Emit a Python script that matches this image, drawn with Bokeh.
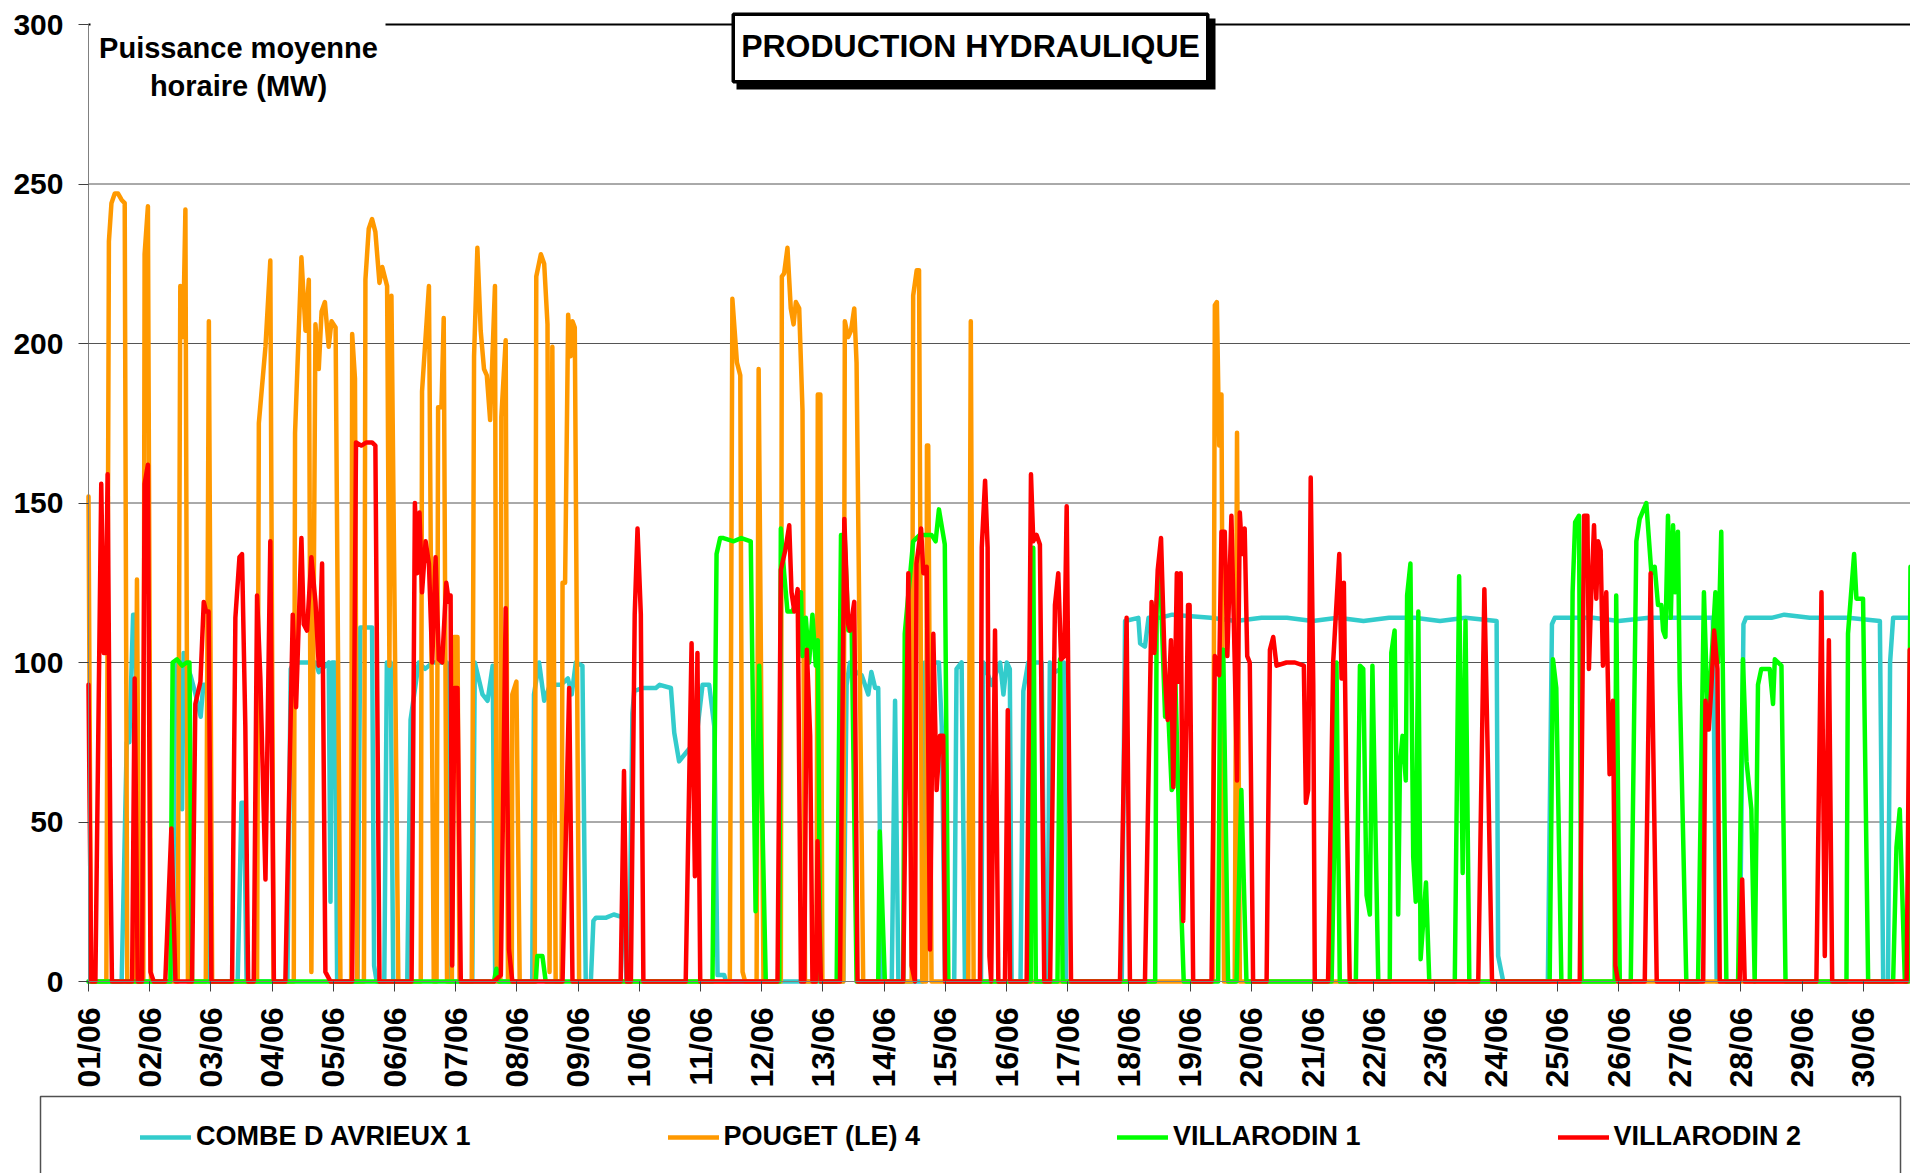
from math import pi
from bokeh.plotting import figure
from bokeh.models import (Range1d, FixedTicker, Label, BoxAnnotation, Legend, LegendItem)
from bokeh.embed import file_html
from bokeh.resources import INLINE

# ---------------- data (hours since 01/06 00:00, MW) ----------------
DAY_LABELS = ["01/06", "02/06", "03/06", "04/06", "05/06", "06/06", "07/06", "08/06",
              "09/06", "10/06", "11/06", "12/06", "13/06", "14/06", "15/06", "16/06",
              "17/06", "18/06", "19/06", "20/06", "21/06", "22/06", "23/06", "24/06",
              "25/06", "26/06", "27/06", "28/06", "29/06", "30/06"]
DAY_HOURS = [0, 24, 48, 72, 96, 120, 144, 168, 192, 216, 240, 264, 288, 312, 336, 360,
             384, 408, 432, 456, 480, 504, 528, 552, 576, 600, 624, 648, 672, 696]
Y_TICKS = [0, 50, 100, 150, 200, 250, 300]
GRID_LEVELS = [50, 100, 150, 200, 250]

SERIES_NAMES = ["COMBE D AVRIEUX 1", "POUGET (LE) 4", "VILLARODIN 1", "VILLARODIN 2"]

combe_h = [0, 13, 15, 16, 17.5, 18.5, 19.5,
           33, 34, 36, 36.7, 37.3, 38, 40, 42, 44, 45, 46.5, 47.5,
           58.5, 60, 61, 62,
           78, 79.3, 80.5, 89, 90.3, 94.2, 94.9, 95.5, 96.6, 97.5,
           105.5, 106.6, 111.2, 112, 113,
           116, 117, 118.5, 119.5,
           125, 126.3, 129.5, 132, 135, 140.5, 141.5,
           150.5, 151.5, 154.5, 156.5, 158.5, 159.5,
           174, 174.7, 176.7, 178.7, 181, 185.2, 188, 189.5, 191.1, 193.7, 195,
           197, 198, 199, 203, 206, 210, 211,
           212, 213.3, 214, 217, 222.5, 224, 228.4, 229.7, 231.6, 233.6, 235.6, 237,
           238.2, 240.8, 243.4, 245.4, 246.7, 249.3, 250,
           296, 297.3, 298.6, 301, 303.2, 304.5, 305.8, 307, 308.5, 309.7, 311,
           315, 316.3, 317.6,
           327, 328, 333.5, 334.6, 335.9,
           339.5, 340.4, 342.4, 343.7,
           350, 350.9, 354.2, 357.5, 358.8, 360.1, 361.3, 362,
           365.5, 366.6, 368.5, 373.8, 375.1,
           376.1, 377, 379, 381.3, 382.5, 383.3,
           405.2, 406.5, 411.7, 412.4, 414.3, 415.7, 420, 425, 440, 450, 460, 470, 480,
           490, 500, 510, 520, 530, 540, 552.2, 552.8, 554.8,
           572.3, 573.9, 575, 590, 600, 612, 625, 637, 638.5,
           647.5, 649, 650, 660, 665, 675, 690, 702.5, 703.8,
           705.7, 706.5, 707.7, 714.5]
combe_mw = [0, 0, 75, 75, 115, 115, 0,
            0, 100, 100, 54, 103, 100, 96, 90, 83, 93, 93, 0,
            0, 56, 56, 0,
            0, 98, 100, 100, 97, 100, 25, 100, 100, 0,
            0, 111, 111, 5, 0,
            0, 100, 100, 0,
            0, 82, 100, 98, 100, 100, 0,
            0, 100, 90, 88, 99, 0,
            0, 90, 100, 88, 93, 93, 95, 90, 100, 99, 0,
            0, 19, 20, 20, 21, 20, 0,
            0, 84, 91, 92, 92, 93, 92, 78, 69, 71, 73, 73,
            75, 93, 93, 80, 2, 2, 0,
            0, 93, 100, 97, 96, 93, 90, 97, 92, 92, 0,
            0, 88, 0,
            0, 100, 100, 80, 0,
            0, 98, 100, 0,
            0, 100, 93, 100, 90, 100, 98, 0,
            0, 91, 100, 100, 0,
            0, 100, 97, 98, 100, 0,
            0, 113, 114, 106, 105, 114, 114, 115, 114, 113, 114, 114, 113,
            114, 113, 114, 114, 113, 114, 113, 8, 0,
            0, 112, 114, 114, 113, 114, 114, 114, 0,
            0, 112, 114, 114, 115, 114, 114, 113, 0,
            0, 100, 114, 114]

pouget_h = [0, 1,
            7, 8, 9, 10.3, 11.6, 13, 14.2, 15.2,
            18.3, 19, 20,
            21.5, 22, 23.3, 24.5,
            35, 36, 37.1, 38, 39,
            46, 47.2, 48.5,
            66.1, 66.8, 69.4, 71.3, 72.6,
            80.5, 81, 83.5, 85.1, 86.4, 87.4, 89, 90.3, 91.4, 92.7, 94.2, 95.3, 96.9, 98.8,
            103, 103.4, 104.5, 105.4,
            108, 108.6, 109.9, 111.2, 112.5, 114.1, 115.2, 117.1, 118, 118.8, 121.5,
            130.3, 130.8, 133.5, 135.4, 136.5, 137.1, 138.4, 139.3, 140.6,
            142.5, 143.3, 144.7, 145.5,
            150.3, 151.2, 152.5, 153.8, 155.1, 156.2, 157.5, 159.4, 160.1,
            161.5, 161.9, 163.6, 164.5, 166, 166.2, 167.8, 169.1,
            175, 175.6, 177.4, 178.7, 180, 180.8, 181.9, 183.2,
            185.5, 185.9, 186.9, 188.1, 189.1, 189.8, 190.7, 192.4,
            251.5, 252.5, 254.3, 255.6, 256.5, 257.5, 262, 262.8, 264.7,
            271.5, 271.9, 272.8, 274.1, 275.4, 276.5, 277.4, 278.7, 280, 281,
            285.5, 286, 287, 287.8,
            296, 296.6, 297.9, 299, 300.3, 301.2, 303.8,
            322.8, 323.4, 324.8, 325.7, 327, 328.5, 328.8, 329.3, 330.6,
            345, 346, 347.1,
            441, 441.7, 442.5, 443.4, 444.3, 445.3, 449.5, 450.4, 451.5,
            714.5]
pouget_mw = [152, 0,
             0, 232, 244, 247, 247, 245, 244, 0,
             0, 126, 0,
             0, 228, 243, 0,
             0, 218, 202, 242, 0,
             0, 207, 0,
             0, 175, 199, 226, 0,
             0, 172, 227, 204, 220, 3, 206, 192, 210, 213, 199, 207, 205, 0,
             0, 203, 189, 0,
             0, 220, 236, 239, 235, 219, 224, 218, 99, 215, 0,
             0, 185, 218, 0, 0, 180, 180, 208, 0,
             0, 108, 108, 0,
             0, 196, 230, 204, 192, 190, 176, 218, 0,
             0, 177, 201, 0, 0, 90, 94, 0,
             0, 221, 228, 225, 206, 3, 199, 0,
             0, 125, 125, 209, 196, 207, 205, 0,
             0, 214, 194, 190, 3, 0, 0, 192, 0,
             0, 221, 222, 230, 211, 206, 213, 211, 179, 0,
             0, 184, 184, 0,
             0, 207, 202, 204, 211, 194, 0,
             0, 215, 223, 223, 0, 0, 168, 168, 0,
             0, 207, 0,
             0, 212, 213, 168, 184, 0, 0, 172, 0,
             0]

villa1_h = [0, 32.1, 32.5, 33, 34.7, 36.7, 38.5, 39.6, 40.6,
            159, 160, 161,
            175.4, 176, 178, 179.3,
            244.7, 246.3, 247.7, 249, 253, 256, 259.7, 261.6, 263, 265.6,
            270.9, 271.5, 272.8, 274.1, 276, 279.4, 280, 281.3, 282.6, 283.9, 285.2, 286, 287,
            293.4, 295.1, 296.5, 298, 299.3, 301.2,
            309.7, 310.3, 312.3,
            319.5, 320.1, 323.4, 326, 330.6, 332.2, 333.5, 335.8, 337.2,
            369.5, 370.5, 371.5,
            380, 381, 382,
            418.3, 418.9, 420.2, 422.2, 423.5, 424.8, 425.4, 426.1, 428.7, 429.5,
            443, 443.8, 445, 446.9, 450.2, 452.1, 454.1,
            487.5, 488.5, 489.4, 490.7, 497, 498.6, 499.9, 501.2, 502.5, 503.5, 505.8,
            510.3, 510.9, 512.2, 513.6, 514.3, 515.3, 516.6, 517.1, 518.4, 519.5, 520.5,
            521.5, 522.4, 524.5, 525.8,
            535.8, 537.5, 538.9, 540, 541.5,
            573, 574.3, 575.6, 577.6,
            580.9, 582, 583, 584.5, 585.5,
            598.5, 599.1, 600.5,
            604.8, 607, 608.3, 610.9, 612.9, 614.2, 615.5, 616.8, 617.5, 618.4, 619.4,
            620.5, 621.4, 622.3, 623.3, 624, 626.6,
            631.2, 633.5, 635.1, 636.4, 638, 639, 640.3, 642.3,
            646.9, 648.8, 650.2, 652.1, 653.4, 654.7, 656, 659.3, 660.6, 661.3, 663.9, 665.5,
            689.4, 690, 692.4, 693.3, 695.9, 697.9,
            707.7, 709, 710.3, 712.3, 713.5, 714.5]
villa1_mw = [0, 0, 48, 100, 101, 99, 100, 100, 0,
             0, 4, 0,
             0, 8, 8, 0,
             0, 134, 139, 139, 138, 139, 138, 22, 99, 0,
             0, 142, 128, 116, 116, 122, 102, 114, 100, 115, 99, 107, 0,
             0, 140, 140, 110, 110, 0,
             0, 47, 0,
             0, 109, 138, 140, 140, 138, 148, 137, 0,
             0, 136, 0,
             0, 101, 0,
             0, 119, 129, 83, 83, 60, 61, 98, 19, 0,
             0, 104, 104, 0, 0, 60, 0,
             0, 42, 100, 0, 0, 99, 98, 27, 21, 99, 0,
             0, 103, 110, 21, 68, 77, 63, 121, 131, 39, 25,
             116, 7, 31, 0,
             0, 127, 34, 113, 0,
             0, 101, 92, 0,
             0, 122, 144, 146, 0,
             0, 121, 0,
             0, 138, 145, 150, 128, 130, 118, 118, 110, 108, 146,
             114, 143, 122, 141, 94, 0,
             0, 122, 80, 100, 122, 100, 141, 0,
             0, 101, 69, 54, 0, 93, 98, 98, 87, 101, 99, 0,
             0, 109, 134, 120, 120, 0,
             0, 42, 54, 0, 0, 130]

villa2_h = [0, 1.1,
            2.7, 5, 6, 6.6, 7.5, 8.6, 9.2,
            17.1, 18.1, 19.3, 21, 22, 23.3, 24.3, 25.6,
            30.1, 32.5, 34.1,
            40.6, 41.9, 43.9, 45.2, 46.1, 47.1, 48.2,
            56.3, 57.6, 59.2, 60.2, 61.5, 62.6,
            64.8, 66.1, 67.4, 69.4, 71.3, 72.7,
            77.2, 80.1, 81.4, 83.5, 84.4, 85.7, 87.4, 89, 90.3, 91.6, 92.9, 94.9,
            103.4, 104.9, 107, 109, 111.2, 112.5, 114.1,
            126.7, 128, 128.9, 129.8, 130.8, 132.2, 133.5, 134.8, 136.1, 137.4, 138.7,
            140.3, 141.3, 142, 142.6, 143.5, 144.7, 146,
            159, 161.7, 163.6, 164.9, 166.2,
            185.9, 188.5, 189.8,
            208.7, 210, 211.1, 212.7, 214.2, 215.3, 216.6, 217.6,
            234.2, 236.5, 237.8, 238.8, 239.9,
            270.2, 271.5, 273.2, 274.8, 275.7, 276.8, 278.1, 279.4, 280.7, 281.7, 283,
            283.9, 285.3, 285.9, 287.2,
            294.7, 296.4, 297.9, 298.6, 300.3, 301.6,
            319.5, 321.5, 322.8, 324.1, 324.7, 326.5, 327.4, 328.7, 330, 331.3, 332.6,
            333.9, 335.2, 335.9,
            349.6, 350.3, 351.6, 352.6, 353.3, 354, 355.5, 356.8,
            359.4, 360.5, 361.4,
            367.9, 369.6, 370.5, 371.8, 373.1, 374.8,
            377.1, 379, 380.3, 381.4, 382.7, 383.6, 385.3,
            404.5, 407.1, 408.4,
            414.3, 416.9, 418, 419.3, 420.6, 422.2, 423.2, 424.5, 425.4, 426.8, 427.5,
            428.3, 429.3, 431.2, 431.8, 433.2,
            440.4, 441.7, 443.4, 444.3, 445.6, 446.6, 448.2, 449.5, 450.4, 451.5, 452.4,
            453.4, 454.4, 455.4, 456.7,
            462, 463.3, 464.6, 465.9, 469.8, 473.1, 476.6, 477.4, 478.3, 479.3, 480.3, 480.9,
            486.1, 488.1, 490.5, 491.4, 492.3, 493.3, 494.6,
            545, 547.4, 549, 550.4,
            584.8, 586.5, 587.8, 588.4, 589.3, 590.4, 591.3, 592, 593, 593.9, 595.2,
            596.5, 597.8, 598.8, 599.8,
            610.3, 612.6, 615,
            633.2, 634.1, 635.4, 636.4, 637.5, 638.8, 639.7,
            647.5, 648.5, 649.5,
            677.6, 679.6, 680.9, 682.5, 683.8,
            713, 714.2, 714.5]
villa2_mw = [93, 0,
             0, 156, 103, 103, 159, 40, 0,
             0, 95, 0, 0, 156, 162, 3, 0,
             0, 48, 0,
             0, 87, 94, 119, 116, 116, 0,
             0, 114, 133, 134, 80, 0,
             0, 121, 95, 32, 138, 0,
             0, 115, 86, 139, 112, 110, 133, 119, 99, 131, 3, 0,
             0, 169, 168, 169, 169, 168, 0,
             0, 150, 128, 147, 122, 138, 131, 100, 133, 101, 100,
             125, 119, 121, 5, 92, 92, 0,
             0, 2, 117, 10, 0,
             0, 92, 0,
             0, 66, 0, 0, 115, 142, 115, 0,
             0, 106, 33, 103, 0,
             0, 129, 135, 143, 122, 116, 123, 0, 0, 104, 77,
             0, 0, 44, 0,
             0, 145, 112, 110, 119, 0,
             0, 128, 5, 0, 131, 142, 128, 130, 10, 109, 60,
             77, 77, 0,
             0, 136, 157, 136, 8, 0, 110, 0,
             0, 85, 0,
             0, 159, 138, 140, 137, 0,
             0, 118, 128, 101, 102, 149, 0,
             0, 114, 0,
             0, 119, 103, 129, 139, 95, 82, 107, 61, 128, 94,
             128, 19, 118, 118, 0,
             0, 102, 96, 141, 141, 102, 146, 100, 63, 147, 134,
             142, 102, 100, 0,
             0, 104, 108, 99, 100, 100, 99, 56, 60, 158, 93, 0,
             0, 100, 134, 95, 125, 60, 0,
             0, 123, 60, 0,
             0, 146, 146, 98, 121, 143, 120, 138, 135, 99, 122,
             65, 88, 5, 0,
             0, 128, 0,
             0, 88, 79, 92, 110, 98, 0,
             0, 32, 0,
             0, 122, 8, 107, 0,
             0, 104, 104]

COLORS = ["#33CCCC", "#FF9900", "#00FF00", "#FF0000"]

# ---------------- layout constants (pixels) ----------------
W, H = 1910, 1173
PLOT_LEFT, PLOT_TOP, PLOT_BOTTOM = 88, 24, 981
PX_PER_HOUR = 61.2 / 24
PX_PER_MW = (PLOT_BOTTOM - PLOT_TOP) / 300.0
X_END = (W - PLOT_LEFT) / PX_PER_HOUR


def vy(y_canvas):
    """canvas y (top-down) -> Bokeh screen y (bottom-up)"""
    return H - y_canvas


FONT = "Liberation Sans"
p = figure(width=W, height=H, title=None,
           x_range=Range1d(-PLOT_LEFT / PX_PER_HOUR, X_END),
           y_range=Range1d(-(H - PLOT_BOTTOM) / PX_PER_MW, PLOT_BOTTOM / PX_PER_MW),
           output_backend="svg", toolbar_location=None,
           min_border_left=0, min_border_right=0, min_border_top=0, min_border_bottom=0)
p.outline_line_color = None
p.background_fill_color = "white"
p.border_fill_color = "white"
p.xgrid.visible = False
p.ygrid.visible = False

# axes pinned at the data origin
p.xaxis.fixed_location = 0
p.yaxis.fixed_location = 0
p.xaxis.bounds = (0, X_END)
p.yaxis.bounds = (0, 300)
p.xaxis.ticker = FixedTicker(ticks=DAY_HOURS)
p.xaxis.major_label_overrides = {h: lab for h, lab in zip(DAY_HOURS, DAY_LABELS)}
p.xaxis.major_label_orientation = pi / 2
p.xaxis.major_label_standoff = 16
p.xaxis.major_label_text_font_size = "32px"
p.yaxis.ticker = FixedTicker(ticks=Y_TICKS)
p.yaxis.major_label_standoff = 15
p.yaxis.major_label_text_font_size = "30px"
for ax in (p.xaxis, p.yaxis):
    ax.major_label_text_font = FONT
    ax.major_label_text_font_style = "bold"
    ax.major_label_text_color = "black"
    ax.axis_line_color = "#808080"
    ax.axis_line_width = 1
    ax.major_tick_line_color = "#404040"
    ax.major_tick_out = 10
    ax.major_tick_in = 0
    ax.minor_tick_out = 0
    ax.minor_tick_in = 0

# horizontal grid lines and top border
p.segment(x0=[0] * len(GRID_LEVELS), y0=GRID_LEVELS, x1=[X_END] * len(GRID_LEVELS),
          y1=GRID_LEVELS, line_color="#555555", line_width=1)
p.segment(x0=[0], y0=[300], x1=[X_END], y1=[300], line_color="black", line_width=2)

renderers = []
for name, xs, ys, col in zip(SERIES_NAMES,
                             [combe_h, pouget_h, villa1_h, villa2_h],
                             [combe_mw, pouget_mw, villa1_mw, villa2_mw], COLORS):
    r = p.line(xs, ys, line_color=col, line_width=4.5, line_join="round", line_cap="round")
    renderers.append(r)

SCREEN = dict(left_units="screen", right_units="screen", top_units="screen",
              bottom_units="screen")

# white box behind the unit label
p.add_layout(BoxAnnotation(left=90, right=385, top=vy(18), bottom=vy(104),
                           fill_color="white", fill_alpha=1, line_color=None, **SCREEN))
p.add_layout(Label(x=238, y=vy(47), x_units="screen", y_units="screen",
                   text="Puissance moyenne", text_align="center",
                   text_baseline="alphabetic", text_font=FONT,
                   text_font_style="bold", text_font_size="29px", text_color="black"))
p.add_layout(Label(x=238, y=vy(85), x_units="screen", y_units="screen",
                   text="horaire (MW)", text_align="center",
                   text_baseline="alphabetic", text_font=FONT,
                   text_font_style="bold", text_font_size="29px", text_color="black"))

# title box with shadow
p.add_layout(BoxAnnotation(left=736, right=1215, top=vy(18), bottom=vy(89),
                           fill_color="black", fill_alpha=1, line_color=None, **SCREEN))
p.add_layout(BoxAnnotation(left=732.75, right=1207.25, top=vy(13.75), bottom=vy(81.25),
                           fill_color="white", fill_alpha=1, line_color="black",
                           line_alpha=1, line_width=3.5, **SCREEN))
p.add_layout(Label(x=970, y=vy(45.5), x_units="screen", y_units="screen",
                   text="PRODUCTION HYDRAULIQUE", text_align="center",
                   text_baseline="middle", text_font=FONT, text_font_style="bold",
                   text_font_size="32px", text_color="black"))

# legend frame
p.add_layout(BoxAnnotation(left=40, right=1900, top=vy(1096), bottom=vy(1185),
                           fill_color="white", fill_alpha=0, line_color="#505050",
                           line_alpha=1, line_width=1.5, **SCREEN))

legend = Legend(items=[LegendItem(label=n, renderers=[r]) for n, r in zip(SERIES_NAMES, renderers)],
                location=(140, vy(1152)), orientation="horizontal", spacing=197, padding=0,
                margin=0, glyph_width=51, glyph_height=30, label_height=30,
                label_standoff=5, label_text_font=FONT, label_text_font_style="bold",
                label_text_font_size="27px", label_text_color="black",
                border_line_color=None, background_fill_alpha=0)
p.add_layout(legend)

open("out.html", "w").write(file_html(p, INLINE))
